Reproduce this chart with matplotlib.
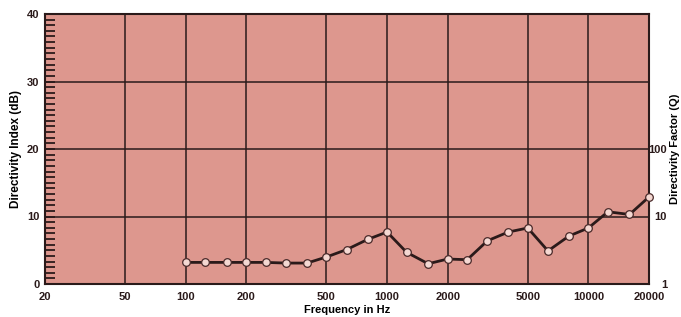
import matplotlib
matplotlib.use("Agg")
import matplotlib.pyplot as plt
from matplotlib.ticker import FixedLocator, NullFormatter, NullLocator
import numpy as np

# third-octave band centres (Hz) and directivity index (dB)
freqs = [100, 125, 160, 200, 250, 315, 400, 500, 630, 800, 1000, 1250, 1600,
         2000, 2500, 3150, 4000, 5000, 6300, 8000, 10000, 12500, 16000, 20000]
di_db = [3.2, 3.2, 3.2, 3.2, 3.2, 3.1, 3.1, 4.0, 5.1, 6.6, 7.7, 4.7, 3.0,
         3.7, 3.6, 6.4, 7.7, 8.3, 4.9, 7.1, 8.3, 10.7, 10.3, 12.9]

x_ticks = [20, 50, 100, 200, 500, 1000, 2000, 5000, 10000, 20000]
y_ticks = [0, 10, 20, 30, 40]
q_ticks = [1, 10, 100]

bg = "#dd978e"
ink = "#2a1a1a"
font = "Liberation Sans"

W, H = 681, 317


def main():
    plt.rcParams["font.family"] = font
    fig = plt.figure(figsize=(W / 100, H / 100), dpi=100)
    left, right, top, bottom = 45, 649, 14, 284
    ax = fig.add_axes([left / W, 1 - bottom / H, (right - left) / W, (bottom - top) / H])
    ax.set_facecolor(bg)

    ax.set_xscale("log")
    ax.set_xlim(20, 20000)
    ax.set_ylim(0, 40)

    ax.xaxis.set_major_locator(FixedLocator(x_ticks))
    ax.xaxis.set_minor_locator(NullLocator())
    ax.set_xticklabels([str(t) for t in x_ticks], fontsize=8, fontweight="bold")
    ax.set_yticks(y_ticks)
    ax.set_yticklabels([str(t) for t in y_ticks], fontsize=8, fontweight="bold")
    ruler = [v for v in np.arange(0, 40.01, 10 / 12) if abs(v / 10 - round(v / 10)) > 1e-6]
    ax.yaxis.set_minor_locator(FixedLocator(ruler))
    ax.tick_params(axis="x", which="major", length=0, pad=6, colors=ink)
    ax.tick_params(axis="y", which="major", length=7, width=1.3, direction="in", pad=4, colors=ink)
    ax.tick_params(axis="y", which="minor", length=7, width=1.3, direction="in", color=ink)

    ax.grid(True, which="major", color=ink, linewidth=1.1)
    for s in ax.spines.values():
        s.set_color(ink)
        s.set_linewidth(1.5)

    ax.plot(freqs, di_db, "-", color=ink, linewidth=2.0, zorder=3,
            marker="o", markersize=5.5, markerfacecolor="#f4d8d2",
            markeredgecolor="#4a2a2a", markeredgewidth=0.9, clip_on=False)

    ax.set_xlabel("Frequency in Hz", fontsize=8, fontweight="bold")
    ax.xaxis.set_label_coords(0.5, (bottom - 305) / (bottom - top))
    ax.set_ylabel("Directivity Index (dB)", fontsize=8.5, fontweight="bold")
    ax.yaxis.set_label_coords((22 - left) / (right - left), 0.5)

    ax2 = ax.twinx()
    ax2.set_yscale("log")
    ax2.set_ylim(1, 10000)
    ax2.yaxis.set_major_locator(FixedLocator(q_ticks))
    ax2.yaxis.set_minor_locator(NullLocator())
    ax2.yaxis.set_minor_formatter(NullFormatter())
    ax2.set_yticklabels([str(q) for q in q_ticks], fontsize=8, fontweight="bold", ha="right")
    ax2.tick_params(axis="y", length=0, pad=13, colors=ink)
    for s in ax2.spines.values():
        s.set_visible(False)
    ax2.set_ylabel("Directivity Factor (Q)", fontsize=8, fontweight="bold")
    ax2.yaxis.set_label_coords((670 - left) / (right - left), 0.5)

    fig.savefig("out.png", dpi=100, facecolor="white")


if __name__ == "__main__":
    main()
